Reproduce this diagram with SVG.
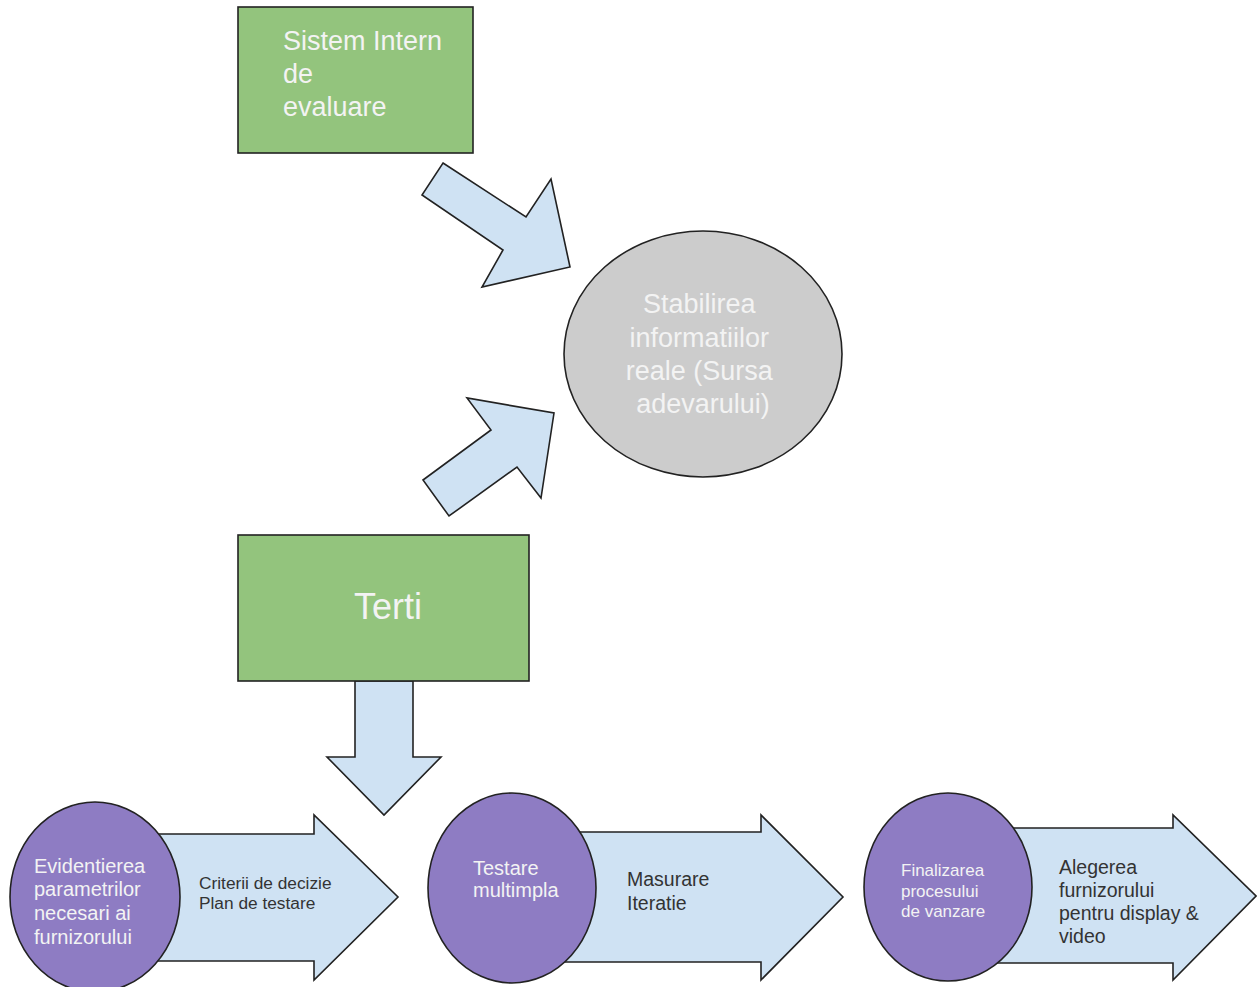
<svg xmlns="http://www.w3.org/2000/svg" width="1257" height="987" viewBox="0 0 1257 987">
  <style>
    .box { fill: #93c47d; stroke: #222222; stroke-width: 1.6; }
    .truth { fill: #cccccc; stroke: #222222; stroke-width: 1.6; }
    .stage { fill: #8e7cc3; stroke: #222222; stroke-width: 1.6; }
    .flow { fill: #cfe2f3; stroke: #222222; stroke-width: 1.6; stroke-linejoin: miter; }
    text { font-family: "Liberation Sans", Arial, sans-serif; }
    .light { fill: #f3f3f3; }
    .dark { fill: #333333; }
  </style>
  <rect width="1257" height="987" fill="#ffffff"/>

  <!-- block arrows linking the sources to the central ellipse and the process row -->
  <g id="connectors">
    <polygon class="flow" points="443,163 526,217 551,179 570,267 482,287 503,250 422,195"/>
    <polygon class="flow" points="423,480 491,430 467,398 554,413 541,498 517,467 449,516"/>
    <polygon class="flow" points="355,681 413,681 413,757 441,757 384,815 327,757 355,757"/>
  </g>

  <g id="sistem-intern">
    <rect class="box" x="238" y="7" width="235" height="146"/>
    <text class="light" font-size="27">
      <tspan x="283" y="50">Sistem Intern</tspan>
      <tspan x="283" y="83">de</tspan>
      <tspan x="283" y="116">evaluare</tspan>
    </text>
  </g>

  <g id="stabilirea">
    <ellipse class="truth" cx="703" cy="354" rx="139" ry="123"/>
    <text class="light" font-size="27" text-anchor="middle">
      <tspan x="703" y="313">Stabilirea</tspan>
      <tspan x="703" y="347">informatiilor</tspan>
      <tspan x="703" y="380">reale (Sursa</tspan>
      <tspan x="703" y="413">adevarului)</tspan>
    </text>
  </g>

  <g id="terti">
    <rect class="box" x="238" y="535" width="291" height="146"/>
    <text class="light" font-size="36" text-anchor="middle" x="388" y="619">Terti</text>
  </g>

  <!-- process row: each stage is a circle riding on a block arrow -->
  <g id="stage-1">
    <polygon class="flow" points="100,834 314,834 314,815 398,897 314,980 314,961 100,961"/>
    <ellipse class="stage" cx="95" cy="897" rx="85" ry="95"/>
    <text class="light" font-size="20">
      <tspan x="34" y="873">Evidentierea</tspan>
      <tspan x="34" y="896">parametrilor</tspan>
      <tspan x="34" y="920">necesari ai</tspan>
      <tspan x="34" y="944">furnizorului</tspan>
    </text>
    <text class="dark" font-size="17.3">
      <tspan x="199" y="889">Criterii de decizie</tspan>
      <tspan x="199" y="909">Plan de testare</tspan>
    </text>
  </g>

  <g id="stage-2">
    <polygon class="flow" points="510,832 761,832 761,815 843,897 761,980 761,962 510,962"/>
    <ellipse class="stage" cx="512" cy="888" rx="84" ry="95"/>
    <text class="light" font-size="20">
      <tspan x="473" y="875">Testare</tspan>
      <tspan x="473" y="897">multimpla</tspan>
    </text>
    <text class="dark" font-size="19.5">
      <tspan x="627" y="886">Masurare</tspan>
      <tspan x="627" y="910">Iteratie</tspan>
    </text>
  </g>

  <g id="stage-3">
    <polygon class="flow" points="946,828 1173,828 1173,815 1256,896 1173,980 1173,963 946,963"/>
    <ellipse class="stage" cx="948" cy="887" rx="84" ry="94"/>
    <text class="light" font-size="17">
      <tspan x="901" y="876">Finalizarea</tspan>
      <tspan x="901" y="897">procesului</tspan>
      <tspan x="901" y="917">de vanzare</tspan>
    </text>
    <text class="dark" font-size="19.5">
      <tspan x="1059" y="874">Alegerea</tspan>
      <tspan x="1059" y="897">furnizorului</tspan>
      <tspan x="1059" y="920">pentru display &amp;</tspan>
      <tspan x="1059" y="943">video</tspan>
    </text>
  </g>
</svg>
